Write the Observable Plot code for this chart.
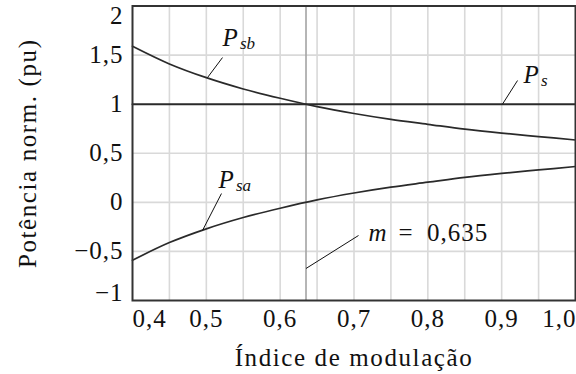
<!DOCTYPE html>
<html>
<head>
<meta charset="utf-8">
<script src="https://cdn.jsdelivr.net/npm/d3@7"></script>
<script src="https://cdn.jsdelivr.net/npm/@observablehq/plot@0.6"></script>
<style>
  body { margin: 0; background: #fff; }
  #chart svg { display: block; }
</style>
</head>
<body>
<div id="chart"></div>
<script>
// Normalised power versus modulation index
const modulationIndex = [0.40, 0.45, 0.50, 0.55, 0.60, 0.65, 0.70, 0.75, 0.80, 0.85, 0.90, 0.95, 1.00];
const powerPsb = [1.59, 1.41, 1.27, 1.155, 1.06, 0.975, 0.905, 0.845, 0.795, 0.745, 0.705, 0.67, 0.635];
const powerPsa = [-0.59, -0.41, -0.27, -0.155, -0.06, 0.025, 0.095, 0.155, 0.205, 0.255, 0.295, 0.33, 0.365];
const powerPs = [1, 1, 1, 1, 1, 1, 1, 1, 1, 1, 1, 1, 1];
const mCritical = 0.635;

// Axis ticks and grid
const xTicks = [0.4, 0.5, 0.6, 0.7, 0.8, 0.9, 1.0];
const yTicks = [-1, -0.5, 0, 0.5, 1, 1.5, 2];
const xGrid = [0.45, 0.5, 0.55, 0.6, 0.65, 0.7, 0.75, 0.8, 0.85, 0.9, 0.95];
const yGrid = [-0.5, 0, 0.5, 1.5];

// Curve labels with leader lines (from point on curve to label anchor)
const labelMain = ["P", "P", "P"];
const labelSub = ["sb", "s", "sa"];
const leaderFromX = [0.5016, 0.9011, 0.4948];
const leaderFromY = [1.271, 1.0, -0.287];
const leaderToX = [0.5219, 0.9215, 0.5205];
const leaderToY = [1.475, 1.241, 0.0896];
const labelDx = [0, 6, -3];
const labelDy = [-12, 2, -6];

// Annotation of the crossing index
const mLeaderFrom = [mCritical, -0.674];
const mLeaderTo = [0.7061, -0.338];
const mValueText = "0,635";

const xTitle = "Índice de modulação";
const yTitle = "Potência norm. (pu)";

const fmtX = d => d.toFixed(1).replace(".", ",");
const fmtY = d => String(d).replace(".", ",").replace("-", "\u2212");

const series = modulationIndex.map((m, i) => ({m, psb: powerPsb[i], psa: powerPsa[i], ps: powerPs[i]}));
const labels = labelMain.map((t, i) => ({
  main: t, sub: labelSub[i],
  x1: leaderFromX[i], y1: leaderFromY[i], x2: leaderToX[i], y2: leaderToY[i],
  dx: labelDx[i], dy: labelDy[i]
}));

const FONT = "'Liberation Serif', 'Times New Roman', serif";
const FS = 25;
const SUB = 17;
const ink = "#2a2a2a";
const txt = "#111";
const mid = 0.32 * FS; // baseline offset of Plot's middle line anchor
const base = {lineAnchor: "middle", fontFamily: FONT, fontSize: FS, fill: txt};

const labelMarks = labels.flatMap(l => [
  Plot.text([l], {...base, x: "x2", y: "y2", text: "main", textAnchor: "start", fontStyle: "italic",
    dx: l.dx, dy: l.dy - mid}),
  Plot.text([l], {...base, x: "x2", y: "y2", text: "sub", textAnchor: "start", fontStyle: "italic",
    fontSize: SUB, dx: l.dx + 17.5, dy: l.dy + 3.5 - 0.32 * SUB})
]);

const valueText = "=\u2002" + mValueText;

const chart = Plot.plot({
  width: 576,
  height: 374,
  marginLeft: 132,
  marginRight: 1,
  marginTop: 5.5,
  marginBottom: 74,
  x: {domain: [0.4, 1.0], axis: null},
  y: {domain: [-1, 2], axis: null},
  marks: [
    Plot.ruleX(xGrid, {x: d => d, stroke: "#d9d9d9", strokeWidth: 1.6}),
    Plot.ruleY(yGrid, {y: d => d, stroke: "#d9d9d9", strokeWidth: 1.6}),
    Plot.ruleX([mCritical], {x: d => d, stroke: "#a3a3a3", strokeWidth: 1.6}),
    Plot.line(series, {x: "m", y: "ps", stroke: ink, strokeWidth: 2}),
    Plot.line(series, {x: "m", y: "psb", stroke: ink, strokeWidth: 1.7, curve: "catmull-rom"}),
    Plot.line(series, {x: "m", y: "psa", stroke: ink, strokeWidth: 1.7, curve: "catmull-rom"}),
    Plot.frame({stroke: "#333", strokeWidth: 2}),

    // leader lines
    Plot.link(labels, {x1: "x1", y1: "y1", x2: "x2", y2: "y2", stroke: txt, strokeWidth: 1}),
    Plot.link([0], {x1: () => mLeaderFrom[0], y1: () => mLeaderFrom[1], x2: () => mLeaderTo[0], y2: () => mLeaderTo[1], stroke: txt, strokeWidth: 1}),
    ...labelMarks,
    Plot.text([0], {...base, x: () => mLeaderTo[0], y: () => mLeaderTo[1], text: () => "m", fontStyle: "italic",
      textAnchor: "start", dx: 10, dy: 5 - mid}),
    Plot.text([0], {...base, x: () => mLeaderTo[0], y: () => mLeaderTo[1], text: () => valueText,
      textAnchor: "start", dx: 40, dy: 5 - mid}),

    // x tick labels
    Plot.text(xTicks.slice(0, 1), {...base, x: d => d, frameAnchor: "bottom", text: fmtX, textAnchor: "start", dy: 26 - mid}),
    Plot.text(xTicks.slice(1, -1), {...base, x: d => d, frameAnchor: "bottom", text: fmtX, textAnchor: "middle", dy: 26 - mid}),
    Plot.text(xTicks.slice(-1), {...base, x: d => d, frameAnchor: "bottom", text: fmtX, textAnchor: "end", dx: 1, dy: 26 - mid}),

    // y tick labels
    Plot.text(yTicks.slice(0, 1), {...base, y: d => d, frameAnchor: "left", text: fmtY, textAnchor: "end", dx: -9, dy: -mid}),
    Plot.text(yTicks.slice(1, -1), {...base, y: d => d, frameAnchor: "left", text: fmtY, textAnchor: "end", dx: -9}),
    Plot.text(yTicks.slice(-1), {...base, y: d => d, frameAnchor: "left", text: fmtY, textAnchor: "end", dx: -9, dy: 18 - mid}),

    // axis titles
    Plot.text([xTitle], {...base, frameAnchor: "bottom", text: d => d, textAnchor: "middle", dy: 65 - mid}),
    Plot.text([yTitle], {...base, frameAnchor: "left", text: d => d, textAnchor: "middle", rotate: -90, dx: -105})
  ]
});

// Wider letter spacing, closer to the Computer Modern set of the figure
const tickTexts = new Set([...xTicks.map(fmtX), ...yTicks.map(fmtY), valueText]);
d3.select(chart).selectAll("text").each(function () {
  const s = this.textContent;
  if (s === xTitle || s === yTitle) this.setAttribute("letter-spacing", "1.6");
  else if (tickTexts.has(s)) this.setAttribute("letter-spacing", "1");
});

document.getElementById("chart").appendChild(chart);
</script>
</body>
</html>
